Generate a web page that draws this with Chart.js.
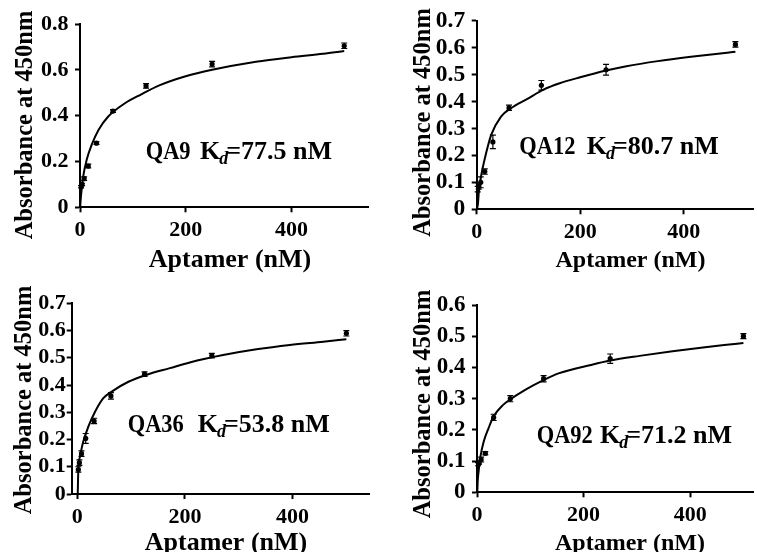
<!DOCTYPE html>
<html><head><meta charset="utf-8">
<script src="https://cdn.jsdelivr.net/npm/chart.js@4.4.1/dist/chart.umd.min.js"></script>
<style>
html,body{margin:0;padding:0;background:#fff;overflow:hidden;width:757px;height:552px;}
canvas{position:absolute;}
</style></head><body>
<canvas id="c1" width="378" height="275" style="left:0;top:0"></canvas>
<canvas id="c2" width="377" height="275" style="left:380px;top:0"></canvas>
<canvas id="c3" width="378" height="272" style="left:0;top:280px"></canvas>
<canvas id="c4" width="377" height="272" style="left:380px;top:280px"></canvas>
<script>
// ---- data ----
const concentrations = [1.95, 3.9, 7.8, 15.6, 31.25, 62.5, 125, 250, 500];

const qa9Values = [0.09, 0.10, 0.125, 0.18, 0.28, 0.42, 0.53, 0.625, 0.705];
const qa9Errors = [0.005, 0.005, 0.008, 0.008, 0.006, 0.006, 0.01, 0.012, 0.012];
const qa9FitX = [0.3, 1.5, 3, 6, 12.5, 22, 35, 53, 85, 116, 150, 200, 250, 333, 400, 460, 500];
const qa9FitY = [0, 0.04, 0.075, 0.134, 0.206, 0.272, 0.337, 0.395, 0.454, 0.493, 0.532, 0.572, 0.60, 0.635, 0.655, 0.670, 0.682];

const qa12Values = [0.075, 0.085, 0.10, 0.14, 0.25, 0.377, 0.46, 0.518, 0.612];
const qa12Errors = [0.01, 0.01, 0.02, 0.01, 0.025, 0.01, 0.018, 0.02, 0.01];
const qa12FitX = [0.5, 2.5, 4.4, 8.8, 15, 28, 47, 66, 98, 130, 159, 200, 250, 287, 350, 414, 484, 500];
const qa12FitY = [0, 0.022, 0.072, 0.127, 0.183, 0.276, 0.344, 0.375, 0.41, 0.445, 0.467, 0.49, 0.515, 0.53, 0.55, 0.566, 0.581, 0.585];

const qa36Values = [0.09, 0.115, 0.148, 0.204, 0.268, 0.36, 0.44, 0.508, 0.59];
const qa36Errors = [0.01, 0.01, 0.01, 0.018, 0.01, 0.012, 0.008, 0.008, 0.01];
const qa36FitX = [0.8, 2, 5, 11, 20.5, 33, 48, 64, 95, 128, 172, 209, 271, 333, 395, 457, 500];
const qa36FitY = [0, 0.094, 0.137, 0.192, 0.247, 0.302, 0.351, 0.376, 0.412, 0.437, 0.462, 0.483, 0.51, 0.531, 0.547, 0.559, 0.568];

const qa92Values = [0.09, 0.095, 0.105, 0.125, 0.24, 0.30, 0.364, 0.428, 0.50];
const qa92Errors = [0.005, 0.005, 0.008, 0.005, 0.01, 0.01, 0.01, 0.015, 0.008];
const qa92FitX = [0.5, 1.5, 3.3, 6.4, 12.5, 21.6, 30.8, 49, 62.6, 92, 122, 153, 214, 250, 305, 367, 428, 464, 500];
const qa92FitY = [0, 0.04, 0.071, 0.114, 0.162, 0.205, 0.242, 0.28, 0.298, 0.33, 0.357, 0.381, 0.408, 0.422, 0.437, 0.452, 0.465, 0.472, 0.478];

const xTickValues = [0, 200, 400];
const yTicksQA9 = [0, 0.2, 0.4, 0.6, 0.8];
const yTicksTo07 = [0, 0.1, 0.2, 0.3, 0.4, 0.5, 0.6, 0.7];
const yTicksQA92 = [0, 0.1, 0.2, 0.3, 0.4, 0.5, 0.6];

const aptamerNames = ['QA9', 'QA12', 'QA36', 'QA92'];
const kdLabels = ['77.5', '80.7', '53.8', '71.2'];
const yAxisTitle = 'Absorbance at 450nm';
const xAxisTitle = 'Aptamer (nM)';

// ---- layout / style (pixels) ----
const SERIF = '"Liberation Serif", "Times New Roman", serif';
const panels = [
  {id:'c1', name:0, vals:qa9Values, errs:qa9Errors, fx:qa9FitX, fy:qa9FitY, yt:yTicksQA9, xmin:0, xmax:545,
   L:80, T:24, R:10, XH:67.7, ytx:25.5, yty:125, xtx:230, xty:267, xtf:26, ytf:22, ytp:6.5, ax:145.7, ay:152, kx:200},
  {id:'c2', name:1, vals:qa12Values, errs:qa12Errors, fx:qa12FitX, fy:qa12FitY, yt:yTicksTo07, xmin:0, xmax:534,
   L:96.7, T:20.7, R:0, XH:65.7, ytx:43.3, yty:122.5, xtx:250.5, xty:267, xtf:24, ytf:23.5, ytp:6.5, ax:139.3, ay:147, kx:206.7},
  {id:'c3', name:2, vals:qa36Values, errs:qa36Errors, fx:qa36FitX, fy:qa36FitY, yt:yTicksTo07, xmin:-10.4, xmax:543,
   L:71.7, T:23.3, R:8.5, XH:58, ytx:25, yty:120, xtx:226, xty:270, xtf:26, ytf:22, ytp:1, ax:127.7, ay:145, kx:197.7},
  {id:'c4', name:3, vals:qa92Values, errs:qa92Errors, fx:qa92FitX, fy:qa92FitY, yt:yTicksQA92, xmin:0, xmax:518,
   L:97, T:25, R:0, XH:59.7, ytx:43.3, yty:124, xtx:250, xty:270, xtf:24, ytf:23, ytp:6.5, ax:156.7, ay:156, kx:220}
];

function makePanel(p) {
  const extras = {
    id: 'extras',
    afterDatasetsDraw(chart) {
      const ctx = chart.ctx, xs = chart.scales.x, ys = chart.scales.y;
      ctx.save();
      ctx.strokeStyle = '#000';
      ctx.lineWidth = 1.2;
      concentrations.forEach((c, i) => {
        const x = xs.getPixelForValue(c);
        const yt = ys.getPixelForValue(p.vals[i] + p.errs[i]);
        const yb = ys.getPixelForValue(p.vals[i] - p.errs[i]);
        ctx.beginPath();
        ctx.moveTo(x, yt); ctx.lineTo(x, yb);
        ctx.moveTo(x - 3, yt); ctx.lineTo(x + 3, yt);
        ctx.moveTo(x - 3, yb); ctx.lineTo(x + 3, yb);
        ctx.stroke();
      });
      ctx.restore();
    },
    afterDraw(chart) {
      const ctx = chart.ctx;
      ctx.save();
      ctx.fillStyle = '#000';
      // y axis title
      ctx.translate(p.ytx, p.yty);
      ctx.rotate(-Math.PI / 2);
      ctx.font = 'bold 24.5px ' + SERIF;
      ctx.textAlign = 'center';
      ctx.textBaseline = 'middle';
      ctx.fillText(yAxisTitle, 0, 0);
      ctx.setTransform(1, 0, 0, 1, 0, 0);
      // x axis title
      ctx.font = 'bold ' + p.xtf + 'px ' + SERIF;
      ctx.textAlign = 'center';
      ctx.textBaseline = 'alphabetic';
      ctx.fillText(xAxisTitle, p.xtx, p.xty);
      // annotation
      ctx.textAlign = 'left';
      ctx.textBaseline = 'middle';
      ctx.save();
      ctx.translate(p.ax, p.ay);
      ctx.scale(0.88, 1);
      ctx.font = 'bold 25.5px ' + SERIF;
      ctx.fillText(aptamerNames[p.name], 0, 0);
      ctx.restore();
      ctx.font = 'bold 26px ' + SERIF;
      ctx.fillText('K', p.kx, p.ay);
      let x = p.kx + ctx.measureText('K').width;
      ctx.font = 'bold italic 18px ' + SERIF;
      ctx.fillText('d', x - 1, p.ay + 7);
      x += ctx.measureText('d').width - 3;
      ctx.font = 'bold 26px ' + SERIF;
      ctx.fillText('=' + kdLabels[p.name] + ' nM', x, p.ay);
      ctx.restore();
    }
  };
  const tickFont = {family: SERIF, size: 22, weight: 'bold'};
  const yTickFont = {family: SERIF, size: p.ytf, weight: 'bold'};
  return new Chart(document.getElementById(p.id), {
    data: {
      datasets: [
        {type: 'line', data: p.fx.map((x, i) => ({x: x, y: p.fy[i]})), borderColor: '#000', borderWidth: 2,
         pointRadius: 0, cubicInterpolationMode: 'monotone', fill: false},
        {type: 'scatter', data: concentrations.map((c, i) => ({x: c, y: p.vals[i]})), pointRadius: 2.6,
         pointBackgroundColor: '#000', pointBorderWidth: 0, borderColor: '#000'}
      ]
    },
    options: {
      responsive: false,
      animation: false,
      events: [],
      layout: {padding: {left: 0, top: p.T, right: p.R, bottom: 0}},
      plugins: {legend: {display: false}, tooltip: {enabled: false}},
      scales: {
        x: {
          type: 'linear', min: p.xmin, max: p.xmax,
          afterBuildTicks: s => { s.ticks = xTickValues.map(v => ({value: v})); },
          afterFit: s => { s.height = p.XH; },
          ticks: {font: tickFont, color: '#000', padding: 5, maxRotation: 0, autoSkip: false, callback: v => String(v)},
          grid: {display: true, drawOnChartArea: false, drawTicks: true, tickLength: 5, tickWidth: 2, tickColor: '#000'},
          border: {display: true, color: '#000', width: 2}
        },
        y: {
          type: 'linear', min: 0, max: p.yt[p.yt.length - 1],
          afterBuildTicks: s => { s.ticks = p.yt.map(v => ({value: v})); },
          afterFit: s => { s.width = p.L; },
          ticks: {font: yTickFont, color: '#000', padding: p.ytp, autoSkip: false, callback: v => String(v)},
          grid: {display: true, drawOnChartArea: false, drawTicks: true, tickLength: 5, tickWidth: 2, tickColor: '#000'},
          border: {display: true, color: '#000', width: 2}
        }
      }
    },
    plugins: [extras]
  });
}
panels.forEach(makePanel);
</script>
</body></html>
